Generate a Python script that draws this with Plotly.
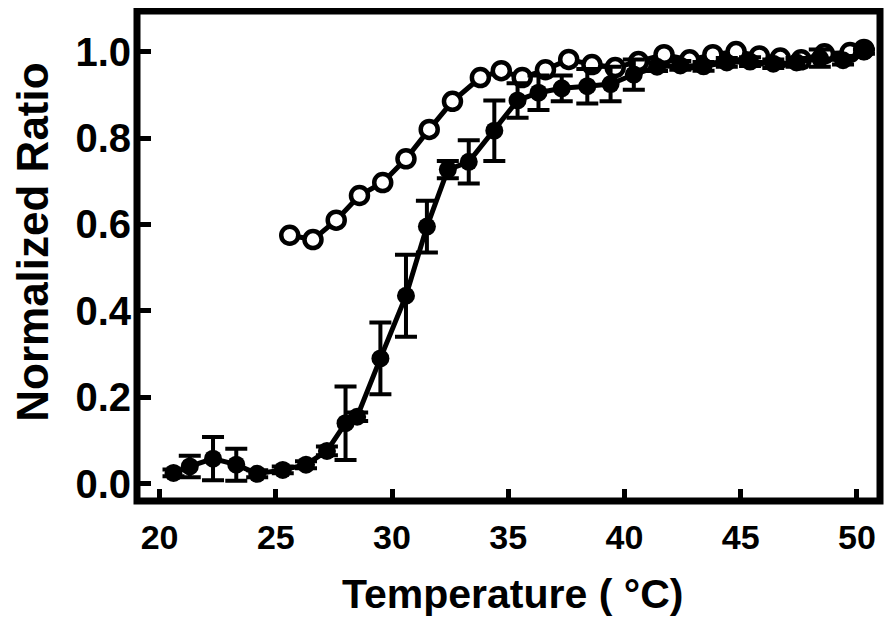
import plotly.graph_objects as go

# Filled series (with error bars)
temp_filled = [20.6, 21.3, 22.3, 23.3, 24.2, 25.3, 26.3, 27.2, 28.0, 28.5, 29.5, 30.6,
               31.5, 32.4, 33.3, 34.4, 35.4, 36.3, 37.3, 38.4, 39.4, 40.4, 41.4, 42.4,
               43.4, 44.4, 45.4, 46.4, 47.4, 48.4, 49.4, 50.3]
ratio_filled = [0.025, 0.040, 0.058, 0.044, 0.023, 0.032, 0.044, 0.076, 0.140, 0.155, 0.290, 0.435,
                0.595, 0.727, 0.745, 0.817, 0.887, 0.905, 0.915, 0.920, 0.925, 0.947, 0.965, 0.968,
                0.966, 0.975, 0.977, 0.972, 0.975, 0.985, 0.980, 1.000]
err_filled = [0.008, 0.025, 0.050, 0.037, 0.008, 0.008, 0.008, 0.010, 0.085, 0.010, 0.083, 0.095,
              0.060, 0.020, 0.050, 0.070, 0.040, 0.040, 0.030, 0.040, 0.040, 0.035, 0.010, 0.010,
              0.010, 0.010, 0.010, 0.010, 0.010, 0.020, 0.010, 0.005]

# Open series
temp_open = [25.6, 26.6, 27.6, 28.6, 29.6, 30.6, 31.6, 32.6, 33.8, 34.7, 35.6, 36.6,
             37.6, 38.6, 39.6, 40.6, 41.7, 42.8, 43.8, 44.8, 45.8, 46.7, 47.6, 48.6, 49.7, 50.3]
ratio_open = [0.575, 0.565, 0.610, 0.667, 0.697, 0.752, 0.820, 0.885, 0.940, 0.956, 0.940, 0.958,
              0.982, 0.970, 0.963, 0.977, 0.993, 0.981, 0.993, 1.000, 0.990, 0.985, 0.981, 0.995,
              0.998, 1.005]
err_open = [0.015] * len(temp_open)

x_ticks = [20, 25, 30, 35, 40, 45, 50]
y_ticks = [0.0, 0.2, 0.4, 0.6, 0.8, 1.0]
y_tick_text = ["0.0", "0.2", "0.4", "0.6", "0.8", "1.0"]
x_title = "Temperature ( °C)"
y_title = "Normalized Ratio"

FONT = "Liberation Sans, Arial, sans-serif"

fig = go.Figure()

fig.add_trace(go.Scatter(
    x=temp_open, y=ratio_open, mode="lines+markers",
    line=dict(color="black", width=5),
    marker=dict(symbol="circle", size=17, color="white", line=dict(color="black", width=4.5)),
    error_y=dict(type="data", array=err_open, color="black", thickness=3, width=0),
    showlegend=False,
))

fig.add_trace(go.Scatter(
    x=temp_filled, y=ratio_filled, mode="lines+markers",
    line=dict(color="black", width=5),
    marker=dict(symbol="circle", size=18, color="black"),
    error_y=dict(type="data", array=err_filled, color="black", thickness=4, width=11),
    showlegend=False,
))

fig.add_shape(type="rect", xref="paper", yref="paper", x0=0, x1=1, y0=0, y1=1,
              line=dict(color="black", width=7), layer="above")

# page body adds an 8 px offset; margins compensate so the frame sits at 137..880 x 11..501
fig.update_layout(
    width=884, height=618,
    margin=dict(l=129, r=12, t=3, b=125, autoexpand=False),
    plot_bgcolor="white", paper_bgcolor="white",
    font=dict(family=FONT, color="black"),
    xaxis=dict(
        range=[19.03, 50.99], tickvals=x_ticks, ticks="inside", ticklen=12, tickwidth=5,
        tickcolor="black", showgrid=False, zeroline=False, showline=False, automargin=False,
        tickfont=dict(family=FONT, size=34, weight="bold"),
        ticklabelstandoff=13,
    ),
    yaxis=dict(
        range=[-0.04, 1.094], tickvals=y_ticks, ticktext=y_tick_text, ticks="inside", ticklen=14, tickwidth=5,
        tickcolor="black", showgrid=False, zeroline=False, showline=False, automargin=False,
        tickfont=dict(family=FONT, size=40, weight="bold"),
        ticklabelstandoff=5,
    ),
    annotations=[
        dict(text=x_title, xref="paper", yref="paper", x=0.505, y=-0.19,
             xanchor="center", yanchor="middle", showarrow=False,
             font=dict(family=FONT, size=41, weight="bold")),
        dict(text=y_title, xref="paper", yref="paper", x=-0.14, y=0.529,
             xanchor="center", yanchor="middle", showarrow=False, textangle=-90,
             font=dict(family=FONT, size=44, weight="bold")),
    ],
)

fig.write_html("out.html")
